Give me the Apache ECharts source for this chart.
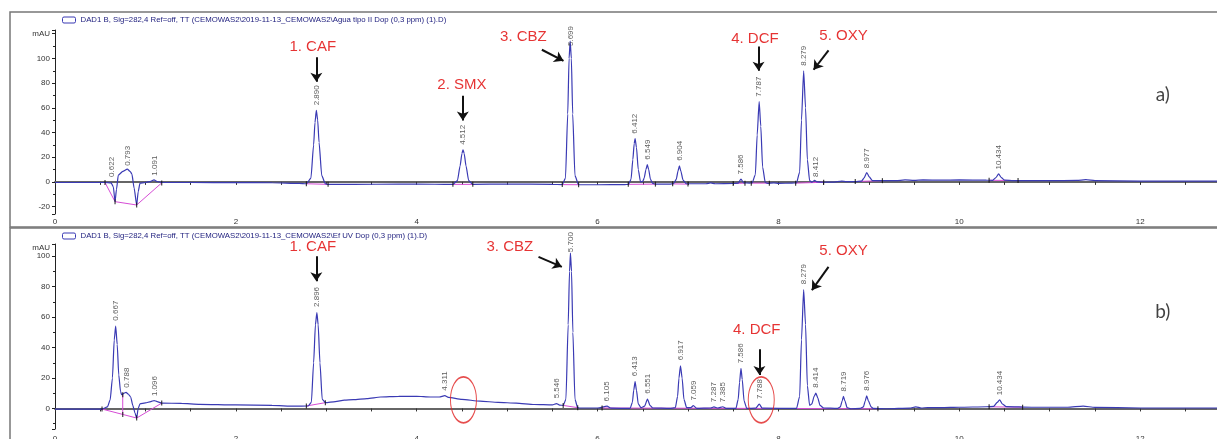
<!DOCTYPE html>
<html style="height: 100%">
<head>
    <meta charset="utf-8">
</head>
<body style="height: 100%; margin: 0; background: #fff">
    <div id="container" style="width: 1217px; height: 439px"></div>
    <script type="text/javascript" src="https://cdn.jsdelivr.net/npm/echarts@6/dist/echarts.min.js"></script>
    <script type="text/javascript">
        // panel a) trace, [time (min), mAU]
        var traceA = [
            [0, -0.5], [0.3, -0.5], [0.55, -0.5], [0.62, -0.8], [0.645, -4], [0.664, -16], [0.68, -6], [0.70, 5.5],
            [0.75, 8.5], [0.80, 10.3], [0.83, 8.5], [0.85, 6.5], [0.875, -5], [0.903, -18.7], [0.92, -8], [0.94, -1],
            [1.0, -0.5], [1.06, 0.5], [1.095, 1.6], [1.13, 0.3], [1.18, -0.5], [1.5, -0.5], [2.0, -0.6], [2.4, -0.7],
            [2.7, -1.2], [2.78, -1.5], [2.83, 3], [2.86, 30], [2.875, 48], [2.89, 58], [2.905, 50], [2.92, 32],
            [2.95, 5], [2.99, -1.5], [3.02, -2], [3.3, -2], [3.8, -1.8], [4.2, -1.9], [4.40, -2], [4.45, 1],
            [4.48, 13], [4.50, 23], [4.512, 26], [4.525, 23], [4.545, 13], [4.575, 1], [4.62, -2], [5.0, -1.7],
            [5.5, -2], [5.61, -2.2], [5.645, 3], [5.67, 55], [5.685, 100], [5.697, 114], [5.71, 100], [5.725, 55],
            [5.75, 5], [5.79, -2.3], [6.0, -2.3], [6.3, -2.2], [6.34, -2], [6.37, 2], [6.39, 18], [6.405, 31],
            [6.415, 35], [6.43, 28], [6.45, 10], [6.475, 0], [6.50, 0.5], [6.515, 3], [6.535, 10], [6.55, 14],
            [6.565, 10], [6.585, 2], [6.61, -1.2], [6.64, -1.8], [6.8, -1.8], [6.84, -1.5], [6.87, 2], [6.89, 9],
            [6.905, 13], [6.92, 9], [6.945, 1.5], [6.98, -1.5], [7.2, -1.5], [7.25, -0.8], [7.3, -1.5], [7.5, -1.3],
            [7.555, -1], [7.586, 2.2], [7.615, -0.8], [7.68, -1], [7.71, -0.8], [7.745, 6], [7.765, 38], [7.787, 65],
            [7.805, 45], [7.825, 12], [7.855, -0.5], [7.88, -1.2], [7.95, -0.8], [8.0, -1.2], [8.15, -1],
            [8.20, -0.8], [8.235, 8], [8.255, 50], [8.279, 90], [8.30, 60], [8.32, 18], [8.345, 1], [8.37, -0.3],
            [8.40, 1.2], [8.43, 0], [8.5, -0.3], [8.6, -0.2], [8.7, 0.7], [8.75, 0.2], [8.85, 0.2], [8.92, 0.6],
            [8.945, 3], [8.977, 7.5], [9.005, 4], [9.04, 1], [9.1, 1], [9.3, 1], [9.4, 1.6], [9.5, 1.2], [9.6, 1.6],
            [9.8, 1.4], [10.0, 1.6], [10.3, 1.4], [10.37, 1.3], [10.405, 3.5], [10.435, 6.5], [10.465, 3.5],
            [10.5, 1.5], [10.6, 1.1], [11.0, 1], [11.3, 1.2], [11.4, 1.8], [11.5, 1], [12, 0.6], [12.85, 0.6]
        ];
        // panel b) trace
        var traceB = [
            [0, -0.4], [0.3, -0.4], [0.52, -0.4], [0.58, 1], [0.61, 5.7], [0.635, 20], [0.655, 45], [0.671, 54],
            [0.688, 42], [0.705, 22], [0.725, 11], [0.738, 9], [0.765, 10], [0.786, 10.5], [0.81, 9.5], [0.837, 7.5],
            [0.86, 2], [0.885, -3], [0.903, -6.3], [0.92, 0], [0.94, 3], [1.0, 3.6], [1.06, 4.5], [1.096, 5.2],
            [1.13, 4.5], [1.18, 3.5], [1.4, 3.3], [1.6, 2.7], [2.0, 2.3], [2.4, 2], [2.65, 1.5], [2.80, 1.6],
            [2.835, 4], [2.86, 30], [2.88, 55], [2.896, 63], [2.91, 55], [2.93, 30], [2.955, 6], [2.99, 3.8],
            [3.1, 4.5], [3.2, 5.5], [3.3, 5.8], [3.45, 6.5], [3.6, 7.5], [3.8, 7.9], [4.0, 8], [4.15, 7.5],
            [4.25, 7.5], [4.311, 8.4], [4.35, 7.3], [4.5, 6], [4.7, 4.8], [4.9, 4], [5.1, 3.5], [5.3, 2.6],
            [5.5, 2.3], [5.546, 3.2], [5.58, 2.2], [5.62, 2], [5.65, 6], [5.675, 55], [5.69, 90], [5.70, 102],
            [5.712, 90], [5.727, 50], [5.75, 6], [5.78, 0.5], [5.8, 0.3], [6.0, 0.3], [6.105, 1.5], [6.15, 0.2],
            [6.36, 0], [6.385, 4], [6.40, 12], [6.415, 17.7], [6.43, 12], [6.45, 3], [6.48, 0.5], [6.52, 1.5],
            [6.552, 6.1], [6.58, 2], [6.61, 0.3], [6.8, 0], [6.86, 0.5], [6.885, 8], [6.90, 20], [6.917, 28],
            [6.935, 20], [6.955, 6], [6.985, 0.5], [7.03, 0.5], [7.059, 1.8], [7.1, 0], [7.25, 0.3], [7.287, 1],
            [7.33, 0.3], [7.385, 1.1], [7.42, 0], [7.53, 0], [7.555, 6], [7.57, 17], [7.586, 26.4], [7.60, 19],
            [7.62, 5], [7.65, 0], [7.75, 0.2], [7.788, 2.9], [7.82, 0.2], [8.2, 0], [8.235, 8], [8.255, 45],
            [8.279, 78], [8.30, 55], [8.32, 15], [8.345, 2], [8.37, 3], [8.395, 8], [8.414, 10], [8.435, 7],
            [8.46, 2], [8.5, 0.3], [8.65, 0], [8.685, 1], [8.705, 5], [8.719, 7.9], [8.735, 5], [8.76, 0.5],
            [8.8, -0.2], [8.9, 0], [8.94, 1], [8.96, 5], [8.976, 8.3], [8.995, 5], [9.025, 1], [9.05, 0],
            [9.2, -0.2], [9.45, 0.2], [9.52, 1], [9.58, 0.3], [9.65, 0.6], [9.8, 0.5], [10.0, 0.8], [10.3, 1.1],
            [10.38, 1.3], [10.42, 4], [10.446, 5.7], [10.475, 3], [10.52, 1.2], [10.8, 0.8], [11.2, 0.8],
            [11.37, 1.5], [11.5, 0.7], [12.0, 0.3], [12.85, 0.3]
        ];
        // integration baselines (null = gap)
        var baseA = [
            [0.553, -0.5], [0.664, -16], [0.903, -18.7], [1.18, -0.8], null,
            [2.78, -1.5], [3.02, -2], null, [4.40, -2], [4.62, -2], null, [5.61, -2.2], [5.79, -2.3], null,
            [6.34, -2], [6.64, -1.8], null, [6.83, -1.6], [7.0, -1.8], null, [7.5, -1.3], [7.63, -1], null,
            [7.70, -1], [7.9, -1], null, [8.19, -1], [8.5, -0.3], null, [8.85, 0.3], [9.15, 1], null,
            [10.33, 1.3], [10.65, 1.1]
        ];
        var baseB = [
            [0.52, -0.4], [0.903, -6.3], [1.18, 3.5], null, [0.749, 9], [0.749, -3.9], null,
            [2.78, 1.6], [2.99, 3.8], null, [5.62, 2], [5.78, 0.5], null, [6.05, 0.3], [9.1, -0.2], null,
            [10.33, 1.1], [10.7, 0.8]
        ];
        // retention time labels: [time, mAU at label foot, text]
        var peaksA = [
            [0.627, 2, '0.622'], [0.81, 11, '0.793'], [1.106, 3, '1.091'], [2.893, 60, '2.890'],
            [4.515, 28, '4.512'], [5.70, 108, '5.699'], [6.415, 37, '6.412'], [6.55, 16, '6.549'],
            [6.905, 15, '6.904'], [7.588, 4, '7.586'], [7.787, 67, '7.787'], [8.28, 92, '8.279'],
            [8.415, 2, '8.412'], [8.977, 9, '8.977'], [10.435, 8, '10.434']
        ];
        var peaksB = [
            [0.672, 56, '0.667'], [0.793, 12, '0.788'], [1.10, 6.5, '1.096'], [2.896, 65, '2.896'],
            [4.311, 10, '4.311'], [5.546, 5, '5.546'], [5.70, 101, '5.700'], [6.105, 3, '6.105'],
            [6.415, 19.5, '6.413'], [6.553, 8, '6.551'], [6.917, 30, '6.917'], [7.06, 3.5, '7.059'],
            [7.287, 2.5, '7.287'], [7.385, 2.5, '7.385'], [7.586, 28, '7.586'], [7.79, 4.5, '7.788'],
            [8.279, 80, '8.279'], [8.414, 12, '8.414'], [8.719, 9.5, '8.719'], [8.976, 10, '8.976'],
            [10.446, 7, '10.434']
        ];
        // compound annotations: [time, mAU, text]
        var namesA = [[2.85, 109, '1. CAF'], [4.50, 78.7, '2. SMX'], [5.18, 117.8, '3. CBZ'],
            [7.74, 116, '4. DCF'], [8.72, 118.4, '5. OXY']];
        var namesB = [[2.85, 106, '1. CAF'], [5.03, 106, '3. CBZ'], [7.76, 51.5, '4. DCF'],
            [8.72, 103.5, '5. OXY']];
        // arrows: [t0, v0, t1, v1]
        var arrowsA = [[2.89, 101, 2.89, 81], [4.51, 69.7, 4.51, 49.7], [5.384, 107, 5.623, 98],
            [7.78, 109.7, 7.78, 90], [8.554, 106.5, 8.389, 90.8]];
        var arrowsB = [[2.89, 100, 2.89, 83.6], [5.347, 99.5, 5.605, 93], [7.79, 38.9, 7.79, 22],
            [8.554, 93, 8.37, 77.7]];
        var circlesB = [[4.517, 5.7], [7.81, 5.7]];
        var panelTags = [[12.25, 70.6, 'a)'], [12.25, 63.5, 'b)']];

        var legendA = 'DAD1 B, Sig=282,4 Ref=off, TT (CEMOWAS2\\2019-11-13_CEMOWAS2\\Agua tipo II Dop (0,3 ppm) (1).D)';
        var legendB = 'DAD1 B, Sig=282,4 Ref=off, TT (CEMOWAS2\\2019-11-13_CEMOWAS2\\Ef UV Dop (0,3 ppm) (1).D)';

        var dom = document.getElementById("container");
        var myChart = echarts.init(dom);

        function xAxisFor(i) {
            return {
                type: 'value', gridIndex: i, min: 0, max: 12.85, interval: 0.5,
                axisLine: { lineStyle: { color: '#666', width: 2 } },
                axisTick: { length: 3, lineStyle: { color: '#333' } },
                splitLine: { show: false },
                axisLabel: {
                    fontSize: 8, color: '#333', margin: i === 0 ? 4 : 6,
                    formatter: function (v) { return v % 2 === 0 ? String(v) : ''; }
                }
            };
        }
        function yAxisFor(i, min, max) {
            return {
                type: 'value', gridIndex: i, min: min, max: max, splitNumber: 7,
                name: 'mAU', nameLocation: 'end', nameGap: -4,
                nameTextStyle: { fontSize: 8, color: '#333', align: 'right', verticalAlign: 'middle', padding: [0, 5, 0, 0] },
                axisLine: { show: true, lineStyle: { color: '#222' } },
                axisTick: { show: true, length: 3, lineStyle: { color: '#222' } },
                minorTick: { show: true, splitNumber: 2, length: 2, lineStyle: { color: '#222' } },
                splitLine: { show: false },
                axisLabel: {
                    fontSize: 8, color: '#333', margin: 5,
                    formatter: function (v) { return (v % 20 === 0 && v <= 100) ? String(v) : ''; }
                }
            };
        }
        function endpoints(base) {
            return base.filter(function (p) { return p !== null; });
        }
        function panelSeries(i, name, trace, base, peaks, names, arrows) {
            return [{
                name: name, type: 'line', xAxisIndex: i, yAxisIndex: i, data: trace,
                showSymbol: false, smooth: 0.2, smoothMonotone: 'x',
                lineStyle: { color: '#3a3ab4', width: 1.2 }, itemStyle: { color: '#3a3ab4' }, z: 3
            }, {
                type: 'line', xAxisIndex: i, yAxisIndex: i, data: base, connectNulls: false,
                showSymbol: false, lineStyle: { color: '#d64cd6', width: 1 }, z: 2
            }, {
                type: 'scatter', xAxisIndex: i, yAxisIndex: i, data: endpoints(base),
                symbol: 'rect', symbolSize: [1.2, 5], itemStyle: { color: '#111' }, z: 4
            }, {
                type: 'scatter', xAxisIndex: i, yAxisIndex: i, symbolSize: 1,
                itemStyle: { color: 'rgba(0,0,0,0)' },
                data: peaks.map(function (p) { return { name: p[2], value: [p[0], p[1]] }; }),
                label: {
                    show: true, position: 'top', distance: 2, rotate: 90, align: 'left', verticalAlign: 'middle',
                    fontSize: 8, color: '#333', formatter: '{b}'
                }, z: 5
            }, {
                type: 'scatter', xAxisIndex: i, yAxisIndex: i, symbolSize: 1,
                itemStyle: { color: 'rgba(0,0,0,0)' },
                data: names.map(function (p) { return { name: p[2], value: [p[0], p[1]] }; }),
                label: { show: true, position: 'inside', fontSize: 15, color: '#e00000', formatter: '{b}' },
                markLine: {
                    silent: true, symbol: ['none', 'arrow'], symbolSize: 9, animation: false,
                    label: { show: false },
                    lineStyle: { color: '#111', width: 2, type: 'solid' },
                    data: arrows.map(function (a) { return [{ coord: [a[0], a[1]] }, { coord: [a[2], a[3]] }]; })
                }, z: 6
            }, {
                type: 'scatter', xAxisIndex: i, yAxisIndex: i, symbolSize: 1,
                itemStyle: { color: 'rgba(0,0,0,0)' },
                data: [{ name: panelTags[i][2], value: [panelTags[i][0], panelTags[i][1]] }],
                label: { show: true, position: 'inside', fontSize: 19, fontFamily: 'Lato', color: '#111', formatter: '{b}' }
            }];
        }

        var series = panelSeries(0, legendA, traceA, baseA, peaksA, namesA, arrowsA)
            .concat(panelSeries(1, legendB, traceB, baseB, peaksB, namesB, arrowsB));
        series.push({
            type: 'scatter', xAxisIndex: 1, yAxisIndex: 1, data: circlesB,
            symbol: 'circle', symbolSize: [26, 46],
            itemStyle: { color: 'rgba(0,0,0,0)', borderColor: '#e02020', borderWidth: 1.3 }, z: 7
        });

        var legendStyle = {
            left: 57, itemWidth: 13, itemHeight: 6, itemGap: 10, icon: 'roundRect',
            itemStyle: { color: '#fff', borderColor: '#3a3ab4', borderWidth: 1 },
            textStyle: { fontSize: 7.8, color: '#232380' }
        };

        var option = {
            animation: false,
            backgroundColor: '#fff',
            textStyle: { fontFamily: 'Liberation Sans' },
            graphic: [
                { type: 'rect', shape: { x: 10, y: 12, width: 1215, height: 215 }, style: { fill: 'none', stroke: '#777', lineWidth: 1.5 }, silent: true },
                { type: 'rect', shape: { x: 10, y: 228, width: 1215, height: 220 }, style: { fill: 'none', stroke: '#777', lineWidth: 1.5 }, silent: true }
            ],
            legend: [
                echarts.util.extend({ top: 11, data: [legendA] }, legendStyle),
                echarts.util.extend({ top: 227, data: [legendB] }, legendStyle)
            ],
            grid: [
                { left: 55, top: 30, width: 1162, height: 184, outerBoundsMode: 'none' },
                { left: 55, top: 244, width: 1162, height: 185, outerBoundsMode: 'none' }
            ],
            xAxis: [xAxisFor(0), xAxisFor(1)],
            yAxis: [yAxisFor(0, -26, 123), yAxisFor(1, -13.5, 108)],
            series: series
        };
        myChart.setOption(option);
    </script>
</body>
</html>
